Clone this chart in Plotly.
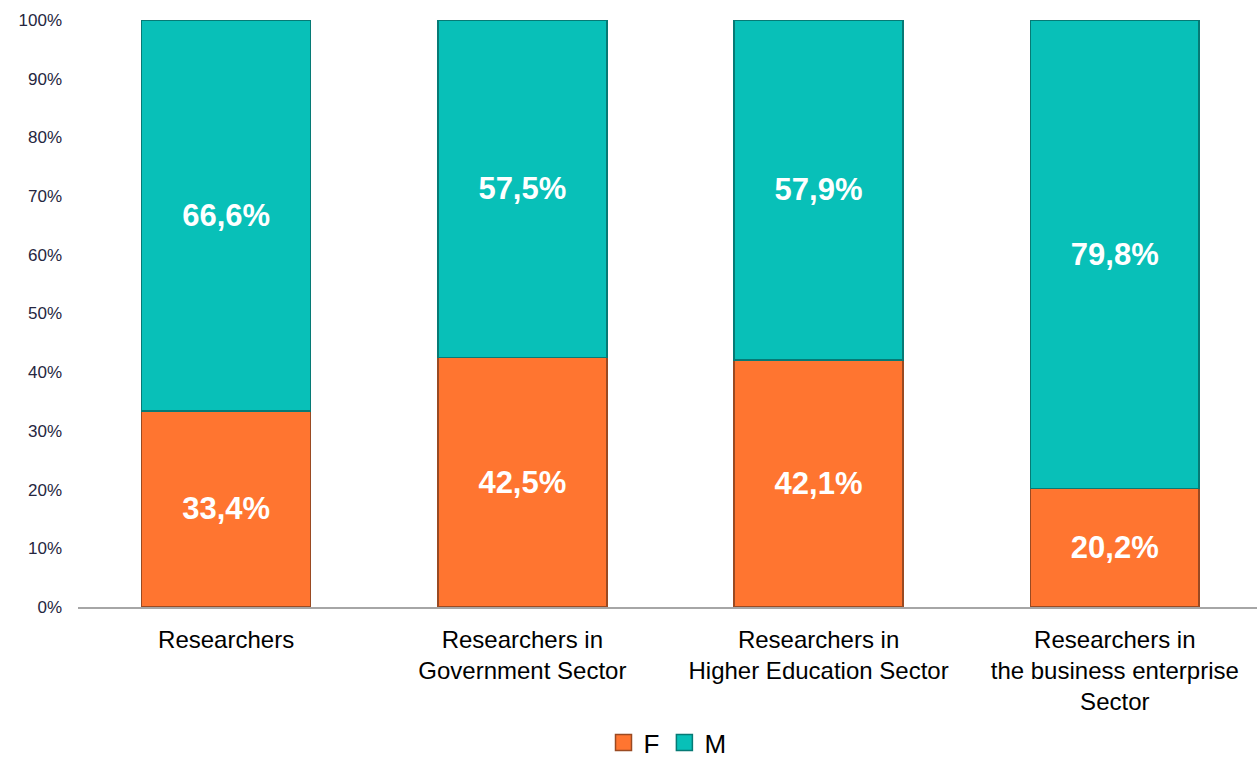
import plotly.graph_objects as go

categories = ["Researchers", "Researchers in<br>Government Sector", "Researchers in<br>Higher Education Sector",
              "Researchers in<br>the business enterprise<br>Sector"]
female = [33.4, 42.5, 42.1, 20.2]
male = [66.6, 57.5, 57.9, 79.8]
female_labels = ["33,4%", "42,5%", "42,1%", "20,2%"]
male_labels = ["66,6%", "57,5%", "57,9%", "79,8%"]
tick_vals = [0, 10, 20, 30, 40, 50, 60, 70, 80, 90, 100]
tick_text = ["0%", "10%", "20%", "30%", "40%", "50%", "60%", "70%", "80%", "90%", "100%"]

F_COLOR = "#FF7530"
M_COLOR = "#08C0B8"
FONT = "Liberation Sans, Arial"

fig = go.Figure()
fig.add_trace(go.Bar(
    x=categories, y=female, name="F", text=female_labels, textposition="inside",
    insidetextanchor="middle", showlegend=False,
    textfont=dict(family=FONT, size=31, color="white", weight="bold"),
    marker=dict(color=F_COLOR, line=dict(color="#9A4A22", width=1.5)),
))
fig.add_trace(go.Bar(
    x=categories, y=male, name="M", text=male_labels, textposition="inside",
    insidetextanchor="middle", showlegend=False,
    textfont=dict(family=FONT, size=31, color="white", weight="bold"),
    marker=dict(color=M_COLOR, line=dict(color="#067A75", width=1.5)),
))
# legend entries with larger square swatches
fig.add_trace(go.Scatter(x=[None], y=[None], mode="markers", name="F",
                         marker=dict(symbol="square", size=16, color=F_COLOR,
                                     line=dict(color="#9A4A22", width=1.5))))
fig.add_trace(go.Scatter(x=[None], y=[None], mode="markers", name="M",
                         marker=dict(symbol="square", size=16, color=M_COLOR,
                                     line=dict(color="#067A75", width=1.5))))

fig.update_layout(
    barmode="stack",
    bargap=0.43,
    width=1257, height=766,
    margin=dict(l=78, r=0, t=20, b=159, autoexpand=False),
    plot_bgcolor="white", paper_bgcolor="white",
    font=dict(family=FONT, color="#000000"),
    uniformtext=dict(mode="show", minsize=10),
    legend=dict(orientation="h", x=0.5, xanchor="center", yref="container", y=0.0,
                yanchor="bottom",
                font=dict(size=26, color="#000000"), itemwidth=30, traceorder="normal"),
    showlegend=True,
)
fig.update_xaxes(
    range=[-0.5, 3.48], showline=True, linecolor="#A6A6A6", linewidth=1.5,
    ticks="", tickfont=dict(size=24, color="#000000"), ticklabelstandoff=10,
    automargin=False,
)
fig.update_yaxes(
    range=[0, 100], tickvals=tick_vals, ticktext=tick_text, showgrid=False,
    showline=False, zeroline=False, tickfont=dict(size=17, color="#262640"),
    ticklabelstandoff=15, automargin=False,
)

fig.write_html("out.html")
